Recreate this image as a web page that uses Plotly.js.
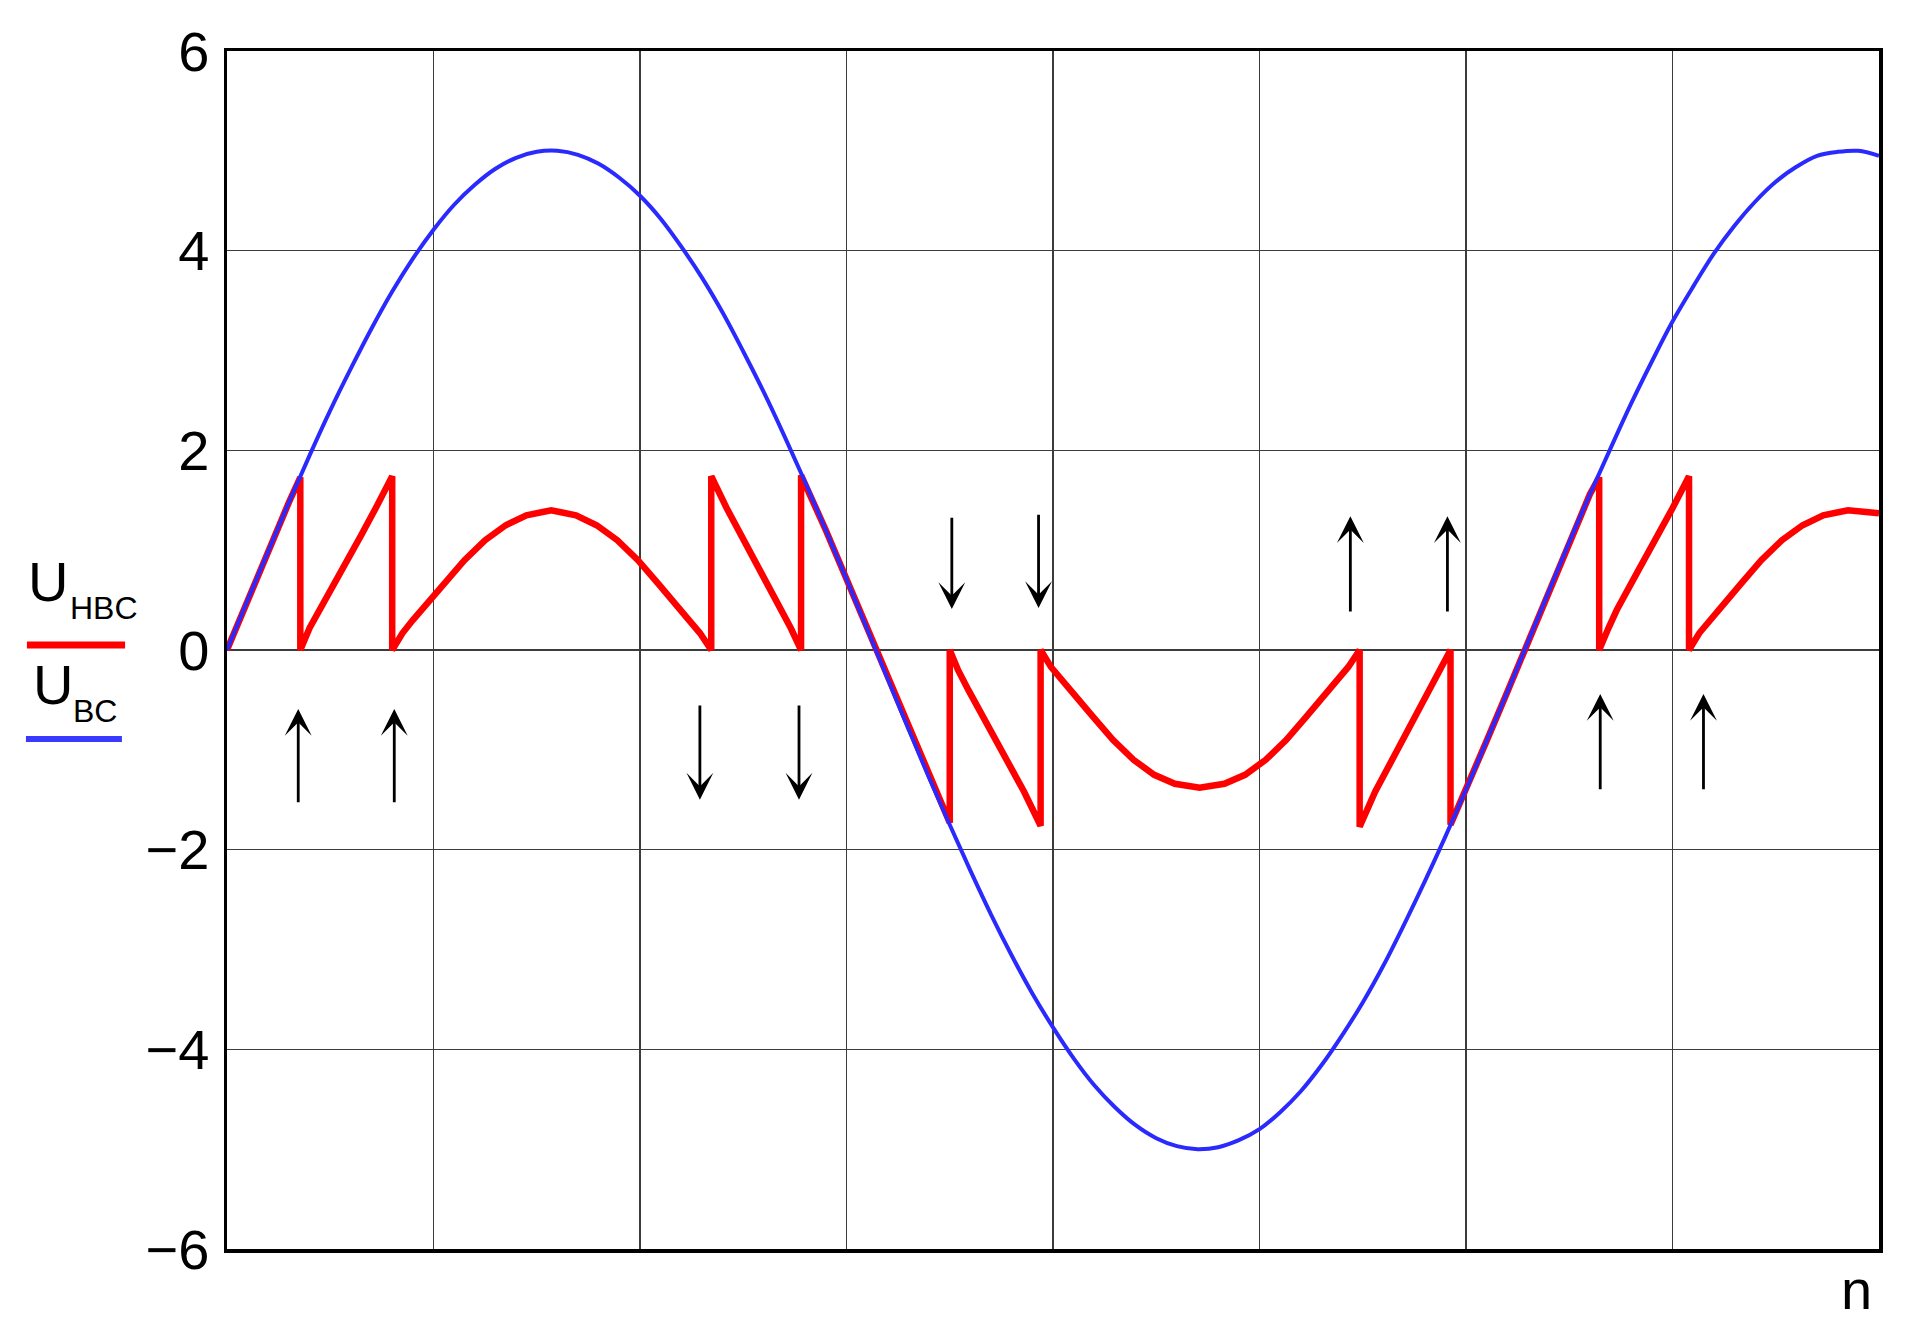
<!DOCTYPE html>
<html>
<head>
    <meta charset="UTF-8">
    <title>U_HBC / U_BC</title>
    <script src="https://cdn.plot.ly/plotly-3.0.1.min.js"></script>
    <style>
        body { margin: 0; background: #fff; }
        #chart { width: 1909px; height: 1343px; }
    </style>
</head>
<body>
    <div id="chart"></div>

    <script>
        // U_BC (blue), n on 0..8
        const blueX = [0, 0.1, 0.2, 0.3, 0.4, 0.5, 0.6, 0.7, 0.8, 0.9,
            1.0, 1.1, 1.2, 1.3, 1.4, 1.5, 1.6, 1.7, 1.8, 1.9,
            2.0, 2.1, 2.2, 2.3, 2.4, 2.5, 2.6, 2.7, 2.8, 2.9,
            3.0, 3.1, 3.2, 3.3, 3.4, 3.5, 3.6, 3.7, 3.8, 3.9,
            4.0, 4.1, 4.2, 4.3, 4.4, 4.5, 4.6, 4.7, 4.8, 4.9,
            5.0, 5.1, 5.2, 5.3, 5.4, 5.5, 5.6, 5.7, 5.8, 5.9,
            6.0, 6.1, 6.2, 6.3, 6.4, 6.5, 6.6, 6.7, 6.8, 6.9,
            7.0, 7.1, 7.2, 7.3, 7.4, 7.5, 7.6, 7.7, 7.8, 7.9, 8.0];
        const blueY = [0, 0.50, 0.99, 1.48, 1.95, 2.40, 2.82, 3.22, 3.59, 3.92,
            4.21, 4.46, 4.66, 4.82, 4.93, 4.99, 5.00, 4.96, 4.87, 4.73,
            4.55, 4.32, 4.04, 3.73, 3.38, 2.99, 2.58, 2.14, 1.68, 1.20,
            0.71, 0.21, -0.29, -0.79, -1.28, -1.75, -2.21, -2.65, -3.06, -3.44,
            -3.78, -4.09, -4.36, -4.58, -4.76, -4.89, -4.97, -5.00, -4.98, -4.91,
            -4.80, -4.63, -4.42, -4.16, -3.86, -3.53, -3.16, -2.75, -2.32, -1.87,
            -1.40, -0.91, -0.42, 0.08, 0.58, 1.08, 1.56, 2.02, 2.47, 2.89,
            3.29, 3.64, 3.97, 4.25, 4.49, 4.69, 4.84, 4.95, 4.99, 5.00, 4.95];

        // U_HBC (red), jumps repeat the x value
        const redX = [0, 0.1, 0.2, 0.3, 0.355,
            0.355, 0.40, 0.45, 0.55, 0.65, 0.72, 0.80,
            0.80, 0.85, 0.90, 0.96, 1.05, 1.15, 1.25, 1.35, 1.45, 1.57, 1.69, 1.79, 1.89, 1.99, 2.09, 2.18, 2.24, 2.29, 2.345,
            2.345, 2.42, 2.49, 2.59, 2.69, 2.73, 2.78,
            2.78, 2.9, 3.0, 3.1, 3.2, 3.3, 3.4, 3.5,
            3.5, 3.54, 3.59, 3.69, 3.79, 3.86, 3.94,
            3.94, 3.99, 4.04, 4.10, 4.19, 4.29, 4.39, 4.49, 4.59, 4.71, 4.83, 4.93, 5.03, 5.13, 5.23, 5.32, 5.38, 5.43, 5.485,
            5.485, 5.56, 5.63, 5.73, 5.83, 5.87, 5.925,
            5.925, 6.0, 6.1, 6.2, 6.3, 6.4, 6.5, 6.6, 6.645,
            6.645, 6.69, 6.73, 6.83, 6.93, 7.00, 7.08,
            7.08, 7.13, 7.18, 7.24, 7.33, 7.43, 7.53, 7.63, 7.73, 7.85, 7.95, 8.0];
        const redY = [0, 0.50, 0.99, 1.48, 1.73,
            0, 0.22, 0.40, 0.78, 1.15, 1.42, 1.74,
            0, 0.17, 0.30, 0.44, 0.66, 0.90, 1.10, 1.25, 1.35, 1.40, 1.35, 1.25, 1.10, 0.90, 0.66, 0.44, 0.30, 0.17, 0,
            1.74, 1.42, 1.15, 0.78, 0.40, 0.22, 0,
            1.75, 1.20, 0.71, 0.21, -0.29, -0.79, -1.28, -1.73,
            0, -0.20, -0.40, -0.78, -1.15, -1.42, -1.76,
            0, -0.17, -0.30, -0.44, -0.66, -0.90, -1.10, -1.25, -1.34, -1.38, -1.34, -1.25, -1.10, -0.90, -0.66, -0.44, -0.30, -0.17, 0,
            -1.77, -1.42, -1.15, -0.78, -0.40, -0.22, 0,
            -1.75, -1.40, -0.91, -0.42, 0.08, 0.58, 1.08, 1.56, 1.73,
            0, 0.22, 0.40, 0.78, 1.15, 1.42, 1.74,
            0, 0.17, 0.30, 0.44, 0.66, 0.90, 1.10, 1.25, 1.35, 1.40, 1.38, 1.37];

        // black arrows: position, tail value, tip value
        const arrowX = [0.345, 0.81, 2.29, 2.77, 3.51, 3.93, 5.44, 5.91, 6.65, 7.15];
        const arrowFrom = [-1.54, -1.54, -0.54, -0.54, 1.34, 1.37, 0.37, 0.37, -1.41, -1.41];
        const arrowTo = [-0.59, -0.59, -1.50, -1.50, 0.41, 0.42, 1.34, 1.34, -0.44, -0.44];

        const FONT = 'Liberation Sans, Arial, sans-serif';

        const redTrace = {
            x: redX, y: redY, type: 'scatter', mode: 'lines', name: 'U_HBC',
            line: { color: '#ff0000', width: 6.5, shape: 'linear' }
        };
        const blueTrace = {
            x: blueX, y: blueY, type: 'scatter', mode: 'lines', name: 'U_BC',
            line: { color: '#2a2aff', width: 4, shape: 'spline' }
        };

        const annotations = arrowX.map((x, i) => ({
            x: x, y: arrowTo[i], ax: x, ay: arrowFrom[i],
            xref: 'x', yref: 'y', axref: 'x', ayref: 'y',
            text: '', showarrow: true,
            arrowhead: 3, arrowsize: 1.6, arrowwidth: 2.8, arrowcolor: '#000'
        }));

        // legend drawn by hand: text above a line sample
        const txt = (text, x, y, size) => ({
            text: text, x: x, y: y, xref: 'paper', yref: 'paper',
            xanchor: 'left', yanchor: 'middle', showarrow: false,
            font: { family: FONT, size: size, color: '#000' }
        });
        annotations.push(txt('U', -0.1215, 0.5568, 56));
        annotations.push(txt('HBC', -0.0965, 0.5351, 32));
        annotations.push(txt('U', -0.1185, 0.4708, 56));
        annotations.push(txt('BC', -0.0947, 0.4491, 32));
        annotations.push({
            text: 'n', x: 0.997, y: -0.034, xref: 'paper', yref: 'paper',
            xanchor: 'right', yanchor: 'middle', showarrow: false,
            font: { family: FONT, size: 56, color: '#000' }
        });

        const shapes = [
            { type: 'line', xref: 'paper', yref: 'paper', x0: -0.1211, x1: -0.0617, y0: 0.5042, y1: 0.5042,
              line: { color: '#ff0000', width: 7 } },
            { type: 'line', xref: 'paper', yref: 'paper', x0: -0.1217, x1: -0.0636, y0: 0.4257, y1: 0.4257,
              line: { color: '#3a3aff', width: 6 } }
        ];

        const layout = {
            width: 1909, height: 1343,
            margin: { l: 227, r: 30, t: 51, b: 94 },
            paper_bgcolor: '#fff', plot_bgcolor: '#fff',
            showlegend: false,
            font: { family: FONT, color: '#000' },
            xaxis: {
                range: [0, 8], tick0: 0, dtick: 1,
                showticklabels: false, ticks: '',
                showgrid: true, gridcolor: '#3c3c3c', gridwidth: 1.5,
                zeroline: false,
                showline: true, linecolor: '#000', linewidth: 3.5, mirror: true
            },
            yaxis: {
                range: [-6, 6], tick0: 0, dtick: 2, ticks: '',
                tickfont: { family: FONT, size: 56, color: '#000' },
                ticklabelstandoff: 3,
                showgrid: true, gridcolor: '#3c3c3c', gridwidth: 1.5,
                zeroline: false,
                showline: true, linecolor: '#000', linewidth: 3.5, mirror: true
            },
            annotations: annotations,
            shapes: shapes
        };

        Plotly.newPlot('chart', [redTrace, blueTrace], layout, { staticPlot: true });
    </script>
</body>
</html>
